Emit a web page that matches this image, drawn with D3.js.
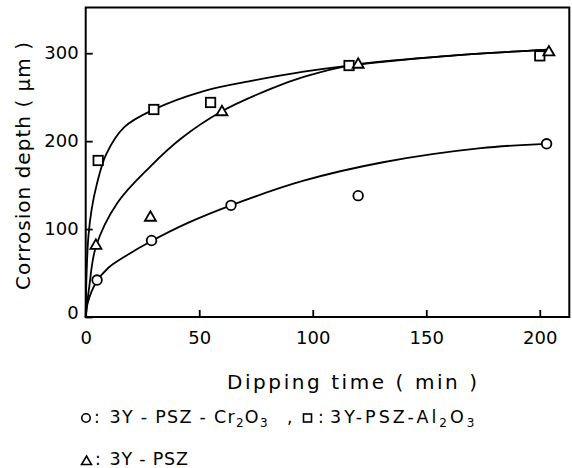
<!DOCTYPE html>
<html>
<head>
<meta charset="utf-8">
<script src="https://cdn.jsdelivr.net/npm/d3@7"></script>
<style>
  html, body { margin: 0; padding: 0; background: #fff; }
  svg { display: block; font-family: "DejaVu Sans", sans-serif; }
</style>
</head>
<body>
<svg id="chart" width="572" height="468"></svg>
<script>
// measured points (min, um)
const crTime = [5, 29, 64, 120, 203];
const crDepth = [42, 87, 127, 138, 197];
const alTime = [5.5, 30, 55, 116, 200];
const alDepth = [178, 236, 244, 286, 297];
const pszTime = [4.5, 28.5, 60, 120, 204];
const pszDepth = [82, 114, 234, 288, 302];

// hand-drawn fit curves
const crCurveTime = [0, 1, 4.5, 10, 18, 28, 45, 64, 96, 131, 174, 203];
const crCurveDepth = [0, 17, 39, 56, 70, 85, 107, 127, 155, 176, 192, 197];
const alCurveTime = [0, 0.4, 1.2, 2.6, 4.8, 9, 17, 30, 52, 74, 96, 116, 160, 204];
const alCurveDepth = [0, 50, 92, 122, 150, 185, 216, 236, 257, 269, 279, 286, 297, 304];
const pszCurveTime = [0, 1.5, 4.5, 14, 28, 42, 60, 82, 96, 116, 160, 204];
const pszCurveDepth = [0, 33, 80, 130, 170, 203, 234, 260, 273, 286, 297, 304];

const xTicks = [0, 50, 100, 150, 200];
const yTicks = [0, 100, 200, 300];

const svg = d3.select("#chart");

// plot frame in page pixels
const box = { left: 85.7, right: 569.3, top: 7.5, bottom: 317 };

const x = d3.scaleLinear().domain([0, 213]).range([box.left, box.right]);
const y = d3.scaleLinear().domain([0, 352]).range([box.bottom, box.top]);

/** spreads letters so the text spans the wanted width */
function fitWidth(sel, width) {
  const n = sel.text().length;
  const len = sel.node().getComputedTextLength();
  if (n > 1) sel.attr("letter-spacing", ((width - len) / (n - 1)).toFixed(2));
}

// axes, ticks pointing inside
const xAxisG = svg.append("g")
  .attr("transform", `translate(0,${box.bottom})`)
  .call(d3.axisBottom(x).tickValues(xTicks).tickSize(-7).tickPadding(14));
const yAxisG = svg.append("g")
  .attr("transform", `translate(${box.left},0)`)
  .call(d3.axisLeft(y).tickValues(yTicks).tickSize(-7).tickPadding(7));

[xAxisG, yAxisG].forEach(g => {
  g.select(".domain").remove();
  g.selectAll(".tick line").attr("stroke", "#000").attr("stroke-width", 1.8);
  g.selectAll(".tick text")
    .attr("fill", "#000")
    .attr("font-family", "DejaVu Sans, sans-serif")
    .attr("font-size", 18);
});
yAxisG.selectAll(".tick").filter(d => d === 0).select("text").attr("dy", "0.1em");

svg.append("rect")
  .attr("x", box.left).attr("y", box.top)
  .attr("width", box.right - box.left).attr("height", box.bottom - box.top)
  .attr("fill", "none").attr("stroke", "#000").attr("stroke-width", 2);

// curves
const line = d3.line()
  .x(d => x(d[0]))
  .y(d => y(d[1]))
  .curve(d3.curveCatmullRom.alpha(0.5));

const curves = [
  d3.zip(crCurveTime, crCurveDepth),
  d3.zip(alCurveTime, alCurveDepth),
  d3.zip(pszCurveTime, pszCurveDepth)
];
svg.append("g").selectAll("path")
  .data(curves)
  .join("path")
  .attr("d", line)
  .attr("fill", "none")
  .attr("stroke", "#000")
  .attr("stroke-width", 1.8);

// marker shapes
const shapes = {
  circle: (g, cx, cy) => g.append("circle").attr("cx", cx).attr("cy", cy).attr("r", 4.8),
  square: (g, cx, cy) => g.append("rect").attr("x", cx - 4.7).attr("y", cy - 4.7).attr("width", 9.4).attr("height", 9.4),
  triangle: (g, cx, cy) => g.append("path").attr("d", `M${cx},${cy - 5.5}L${cx + 5.5},${cy + 4}L${cx - 5.5},${cy + 4}Z`)
};

const series = [
  { shape: "circle", time: crTime, depth: crDepth },
  { shape: "square", time: alTime, depth: alDepth },
  { shape: "triangle", time: pszTime, depth: pszDepth }
];

const markG = svg.append("g")
  .attr("fill", "#fff").attr("stroke", "#000").attr("stroke-width", 1.8);
series.forEach(s => {
  s.time.forEach((t, i) => shapes[s.shape](markG, x(t), y(s.depth[i])));
});

// axis titles
const xTitle = svg.append("text")
  .attr("x", 227).attr("y", 389)
  .attr("font-size", 20)
  .text("Dipping time ( min )");
fitWidth(xTitle, 250);

const yTitle = svg.append("text")
  .attr("transform", "translate(30,290) rotate(-90)")
  .attr("font-size", 20)
  .text("Corrosion depth ( μm )");
fitWidth(yTitle, 248);

// legend
const legG = svg.append("g");
const legMarks = legG.append("g")
  .attr("fill", "#fff").attr("stroke", "#000").attr("stroke-width", 1.6);

function formula(xPos, yPos, parts, width) {
  const t = legG.append("text").attr("x", xPos).attr("y", yPos).attr("font-size", 17.5);
  parts.forEach(p => {
    const ts = t.append("tspan").text(p.s);
    if (p.sub) ts.attr("font-size", 12).attr("dy", 3.5);
    else if (p.after) ts.attr("dy", -3.5);
  });
  fitWidth(t, width);
  return t;
}

function colon(xPos, yPos) {
  legG.append("text").attr("x", xPos).attr("y", yPos).attr("font-size", 17).text(":");
}

shapes.circle(legMarks, 86, 418).attr("r", 4.2);
colon(94, 423);
formula(109.5, 423, [
  { s: "3Y - PSZ - Cr" }, { s: "2", sub: true }, { s: "O", after: true }, { s: "3", sub: true }
], 158);
legG.append("text").attr("x", 287).attr("y", 423).attr("font-size", 17).text(",");
shapes.square(legMarks, 307.5, 418).attr("x", 303.5).attr("y", 414).attr("width", 8).attr("height", 8);
colon(318, 423);
formula(330, 423, [
  { s: "3Y-PSZ-Al" }, { s: "2", sub: true }, { s: "O", after: true }, { s: "3", sub: true }
], 144.5);

shapes.triangle(legMarks, 86.5, 461).attr("d", "M86.5,456L91.5,464.5L81.5,464.5Z");
colon(95, 465);
formula(109.5, 465, [{ s: "3Y - PSZ" }], 78.5);
</script>
</body>
</html>
